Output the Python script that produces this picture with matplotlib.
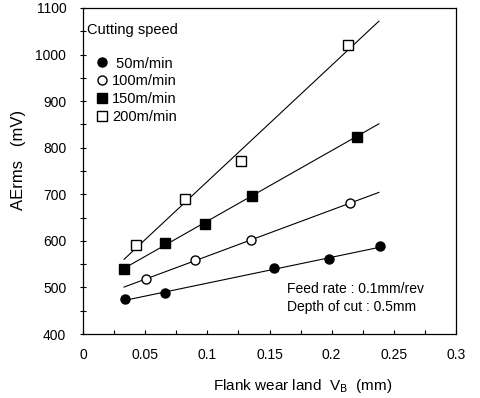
import numpy as np
import matplotlib
matplotlib.use("Agg")
import matplotlib.pyplot as plt

plt.rcParams['font.family'] = ['Liberation Sans', 'DejaVu Sans']

# donnees (VB en mm, AErms en mV)
vb_50 = [0.034, 0.066, 0.154, 0.198, 0.239]
ae_50 = [475, 487, 541, 561, 588]
vb_100 = [0.051, 0.090, 0.135, 0.215]
ae_100 = [518, 558, 602, 681]
vb_150 = [0.033, 0.066, 0.098, 0.136, 0.220]
ae_150 = [539, 595, 637, 697, 824]
vb_200 = [0.043, 0.082, 0.127, 0.2135]
ae_200 = [591, 690, 772, 1020]

labels = [" 50m/min", "100m/min", "150m/min", "200m/min"]
x_ticks = [0, 0.05, 0.1, 0.15, 0.2, 0.25, 0.3]
x_ticklabels = ["0", "0.05", "0.1", "0.15", "0.2", "0.25", "0.3"]
y_ticks = [400, 500, 600, 700, 800, 900, 1000, 1100]

fig = plt.figure(figsize=(4.81, 3.98), dpi=100)
ax = fig.add_axes([0.1726, 0.1608, 0.7754, 0.8192])

series = [
    (vb_50, ae_50, "o", "black", 6.5),
    (vb_100, ae_100, "o", "white", 6.5),
    (vb_150, ae_150, "s", "black", 7),
    (vb_200, ae_200, "s", "white", 7),
]

for (vb, ae, m, fc, ms), lab in zip(series, labels):
    # droite de regression
    a, b = np.polyfit(vb, ae, 1)
    xl = np.array([0.033, 0.238])
    ax.plot(xl, a * xl + b, color="black", linewidth=0.8, zorder=2)
    ax.plot(vb, ae, linestyle="none", marker=m, markersize=ms,
            markerfacecolor=fc, markeredgecolor="black", markeredgewidth=1.0,
            label=lab, zorder=3)

ax.text(0.012, 0.9325, "Cutting speed", transform=ax.transAxes,
        fontsize=10.5, va="center", ha="left")
leg = ax.legend(loc="upper left", bbox_to_anchor=(0.036, 0.851),
                frameon=False, fontsize=10.5, handlelength=0.8,
                handletextpad=0.27, labelspacing=0.27, markerscale=1.0,
                borderaxespad=0, borderpad=0)

ax.text(0.164, 497, "Feed rate : 0.1mm/rev", fontsize=10, va="center")
ax.text(0.164, 458, "Depth of cut : 0.5mm", fontsize=10, va="center")

ax.set_xlim(0, 0.3)
ax.set_ylim(400, 1100)
ax.set_xticks(x_ticks)
ax.set_xticklabels(x_ticklabels)
ax.set_yticks(y_ticks)
ax.set_xticks(np.arange(0, 0.3, 0.025), minor=True)
ax.set_yticks(np.arange(400, 1100, 50), minor=True)
ax.tick_params(axis="x", which="both", direction="in", length=3, width=0.8)
ax.tick_params(axis="y", which="both", direction="inout", length=4, width=0.8)
ax.tick_params(which="major", labelsize=10)
ax.tick_params(axis="x", which="major", pad=10)
ax.tick_params(axis="y", which="major", pad=10)

ax.set_xlabel("Flank wear land  V$_\\mathrm{B}$  (mm)", fontsize=11)
ax.xaxis.set_label_coords(0.59, -0.132)
ax.set_ylabel("AErms   (mV)", fontsize=12)
ax.yaxis.set_label_coords(-0.153, 0.534)

for s in ax.spines.values():
    s.set_linewidth(0.9)

fig.savefig("out.png", dpi=100)
